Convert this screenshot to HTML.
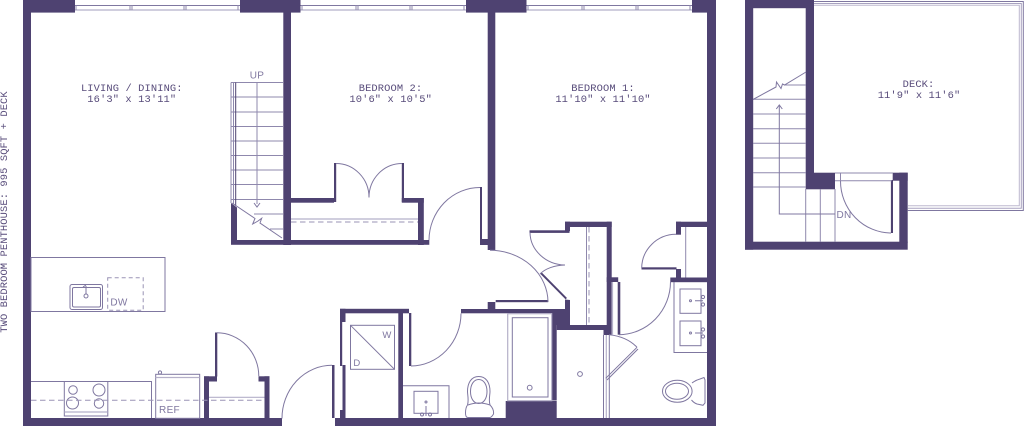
<!DOCTYPE html>
<html><head><meta charset="utf-8"><style>
html,body{margin:0;padding:0;background:#fff;width:1024px;height:426px;overflow:hidden}
svg{display:block}
.w{fill:#4e4271}
.t{fill:none;stroke:#7f77a0;stroke-width:1}
.l{fill:none;stroke:#b5b0c9;stroke-width:1.2}
.r{fill:none;stroke:#8f88ad;stroke-width:1}
.d{fill:none;stroke:#9a93b5;stroke-width:1;stroke-dasharray:5.5 3.5}
.a{fill:none;stroke:#7f77a0;stroke-width:1}
text{font-family:"Liberation Mono",monospace;font-size:10.4px;letter-spacing:.12px;fill:#574b7a;text-anchor:middle}
.s{font-family:"Liberation Sans",sans-serif;font-size:10px;letter-spacing:.3px;fill:#7f77a0}
</style></head><body>
<svg width="1024" height="426" viewBox="0 0 1024 426" xmlns="http://www.w3.org/2000/svg">
<!-- windows -->
<g class="t"><path d="M75 5.5H240M300 5.5H466M526 5.5H692"/></g>
<g class="l"><path d="M75 10H240M300 10H466M526 10H692"/></g>
<g class="r"><path d="M76 5V10M130 5V10M132 5V10M184 5V10M186 5V10M238 5V10M302 5V10M356 5V10M358 5V10M410 5V10M412 5V10M464 5V10M528 5V10M582 5V10M584 5V10M636 5V10M638 5V10M690 5V10"/></g>
<!-- main walls -->
<g class="w">
<rect x="23" y="0" width="8" height="426"/>
<rect x="23" y="0" width="52" height="12.6"/>
<rect x="240" y="0" width="60.5" height="12.6"/>
<rect x="466" y="0" width="60.5" height="12.6"/>
<rect x="692" y="0" width="24" height="12.6"/>
<rect x="707" y="0" width="9" height="426"/>
<rect x="23" y="418" width="259" height="8"/>
<rect x="335" y="418" width="381" height="8"/>
<rect x="283.3" y="12" width="7.7" height="233"/>
<rect x="487.7" y="12" width="7.6" height="238"/>
<!-- bedroom 2 closet -->
<rect x="291" y="198" width="43" height="4.7"/>
<rect x="334" y="163" width="2.2" height="39"/>
<rect x="401.8" y="163" width="2.2" height="39"/>
<rect x="401.8" y="198" width="22" height="4.7"/>
<rect x="418" y="198" width="5.8" height="47"/>
<rect x="231" y="240" width="198.3" height="4.8"/>
<rect x="480" y="187" width="2" height="53"/>
<rect x="480" y="239" width="8" height="6"/>
<path d="M231 203L237 207.5V241H231Z"/>
<!-- entry closet -->
<rect x="204" y="376.3" width="13" height="5.2"/>
<rect x="204" y="376.3" width="5" height="42"/>
<rect x="215" y="332.5" width="2.3" height="44"/>
<rect x="258.5" y="376.3" width="11" height="5.2"/>
<rect x="264.5" y="376.3" width="5" height="42"/>
<rect x="332" y="365" width="2.5" height="53"/>
<!-- laundry -->
<rect x="340" y="308.8" width="69" height="4.5"/>
<rect x="340" y="308.8" width="5.5" height="13.2"/>
<rect x="340" y="322" width="2.2" height="44"/>
<rect x="342.5" y="365" width="3" height="53"/>
<rect x="340" y="410" width="5.5" height="8"/>
<rect x="398.3" y="309" width="4.7" height="110"/>
<rect x="409" y="313" width="2.3" height="53"/>
<!-- hall wall -->
<rect x="461" y="309" width="105" height="4.3"/>
<rect x="487.7" y="302" width="7.6" height="8"/>
<rect x="495.7" y="300" width="52.5" height="2.2"/>
<path d="M565 299.5L570 300V325H556.7V400.5H551.7V313H565Z"/>
<rect x="505.7" y="401" width="51" height="18"/>
<!-- linen closet -->
<rect x="565" y="221.7" width="46.7" height="5.3"/>
<rect x="565" y="221.7" width="5" height="9.5"/>
<rect x="529.5" y="230.3" width="40" height="2.6"/>
<rect x="606.7" y="221.7" width="5" height="113"/>
<rect x="606.7" y="277.3" width="11.5" height="4.7"/>
<rect x="617.7" y="282" width="2.6" height="52.7"/>
<rect x="556.7" y="325" width="52.5" height="5"/>
<rect x="603.5" y="330" width="5.7" height="5"/>
<path d="M540 273.5L541.5 272.2L567 298L565.5 299.3Z"/>
<!-- master bath / closet -->
<rect x="670.3" y="277.5" width="37" height="4.7"/>
<rect x="676" y="221.7" width="31" height="5.3"/>
<rect x="676" y="221.7" width="5" height="13"/>
<rect x="641.5" y="267.3" width="35" height="2.2"/>
<rect x="676" y="269" width="5" height="9"/>
<!-- upper floor -->
<rect x="745" y="0" width="69" height="8.2"/>
<rect x="745" y="0" width="8.2" height="249.7"/>
<rect x="745" y="241.7" width="162.7" height="8"/>
<rect x="805.7" y="0" width="8.3" height="173"/>
<rect x="805.7" y="172.7" width="29.3" height="16.6"/>
<rect x="892.7" y="172.7" width="15" height="8"/>
<rect x="899.3" y="172.7" width="8.4" height="70"/>
<rect x="890.9" y="180" width="2.1" height="53"/>
</g>
<!-- door arcs -->
<g class="a">
<path d="M336 163.5A33 34 0 0 1 369 197.5"/>
<path d="M402 163.5A33 34 0 0 0 369 197.5"/>
<path d="M480 187.5A51 53 0 0 0 429 240"/>
<path d="M217 332.8A42 43.5 0 0 1 258.8 376.3"/>
<path d="M332 365.3A50 53 0 0 0 282 418.5"/>
<path d="M411 366A50.5 52.7 0 0 0 461 313.5"/>
<path d="M490 250.3A58 52 0 0 1 548 302"/>
<path d="M530 232.5A36 33 0 0 0 565 265"/>
<path d="M565 265A30 18 0 0 0 540 274"/>
<path d="M619 334.7A52 53 0 0 0 670.5 282"/>
<path d="M676 234.3A34.5 34 0 0 0 641.7 268"/>
<path d="M609.3 334.7A40 30 0 0 1 637 347.3"/>
<path d="M840.5 181A51 52 0 0 0 891 233"/>
</g>
<!-- stairs lower -->
<g class="r">
<path d="M231 82.5H283M231 97H283M231 112H283M231 126.5H283M231 141H283M231 155.5H283M231 170H283M231 184.5H283M231 199.5H283M254 214H283M270 229H283"/>
<path d="M231 82.5V203M233.5 82.5V204M257 82.5V204"/>
</g>
<path d="M235.7 82.5V206" fill="none" stroke="#4e4271" stroke-width="1"/>
<path d="M254 203L257 207L260 203" class="a"/>
<path d="M232 203L255 218.5L252.7 224L258 221L261.7 218.3L260 223L282 238" class="a"/>
<text class="s" x="257" y="78.5" style="fill:#8078a0">UP</text>
<!-- closet bedroom 2 -->
<path d="M291 219H418" class="l"/>
<path d="M291 222H418" class="d"/>
<!-- island -->
<rect x="31" y="257.5" width="134" height="54" class="t"/>
<rect x="70" y="284.5" width="32.5" height="25" rx="2" class="t"/>
<rect x="72.5" y="287.5" width="28" height="19.5" rx="1.5" class="t"/>
<circle cx="86" cy="296" r="2" class="t"/>
<path d="M86 286V294M83 287L86 285" class="t" stroke-width="1.3"/>
<rect x="107.7" y="277.7" width="35.5" height="32.5" class="d" style="stroke-dasharray:4 3"/>
<text class="s" x="119" y="305.5">DW</text>
<!-- kitchen counter -->
<path d="M31 381.5H64M108 381.5H151.5V418" class="t"/>
<rect x="64.3" y="381.5" width="43.5" height="34.5" class="t"/>
<path d="M64.3 412H107.8" class="l"/>
<circle cx="73" cy="390" r="4.3" class="t"/>
<circle cx="99" cy="390" r="6" class="t"/>
<circle cx="72.5" cy="403" r="6" class="t"/>
<circle cx="99" cy="403.5" r="4.7" class="t"/>
<path d="M31 400.3H264" class="d"/>
<rect x="155.7" y="374.3" width="44" height="44" class="t"/>
<path d="M155.7 377.5H199.7" class="l"/>
<circle cx="160" cy="372.5" r="1.6" class="t"/>
<text class="s" x="169.5" y="413">REF</text>
<path d="M209 397.3H264.5" class="l"/>
<!-- W/D -->
<rect x="350.5" y="325.3" width="44" height="44" class="t"/>
<path d="M350.5 325.3L394.5 369.3" class="t"/>
<text class="s" x="387" y="338" style="font-size:9.5px">W</text>
<text class="s" x="357" y="366" style="font-size:9.5px">D</text>
<!-- bath 2 -->
<path d="M403 385.8H449V418" class="t"/>
<rect x="414" y="391.3" width="24" height="22" class="t"/>
<circle cx="426" cy="402" r="1" class="t"/>
<path d="M426 406V416" class="t" stroke-width="1.4"/>
<circle cx="422" cy="414.5" r="1.5" class="t"/>
<circle cx="430" cy="414.5" r="1.5" class="t"/>
<path d="M467.5 405C469 400 467.5 395 467.5 391.5C467.5 382 472 376.5 478.7 376.5C485.5 376.5 490 382 490 391.5C490 395 488.5 400 490 405C492 407 494 410 493.5 414C492 416.5 491 417.5 490 417.5H468C466.5 417.5 465.5 416 465.5 413C465.5 410 466 407 467.5 405Z" class="t"/>
<path d="M478.7 379.5C484 379.5 487 385 487 391.5C487 398 484 403.5 478.7 403.5C473.5 403.5 470.5 398 470.5 391.5C470.5 385 473.5 379.5 478.7 379.5Z" class="t"/>
<path d="M468 405Q478.7 401 490 405" class="t"/>
<!-- tub -->
<rect x="507.7" y="313.7" width="44" height="87" class="l"/>
<rect x="512.3" y="317.7" width="35.7" height="79.3" class="t"/>
<circle cx="529.7" cy="387.7" r="2.4" class="t"/>
<!-- shower -->
<circle cx="580" cy="374" r="2.4" class="t"/>
<path d="M603.5 335V418M609.3 335V418" class="t"/>
<path d="M606.3 335V418" class="l"/>
<path d="M605.7 378.3L637 347.3M607 380L638 349" class="t"/>
<path d="M586.5 227V325" class="r"/>
<path d="M589 227V325" class="d"/>
<path d="M612.5 282V334.5" class="l"/>
<path d="M685.7 227V277.5" class="r"/>
<!-- vanity -->
<path d="M674 282V352.5H707" class="t"/>
<rect x="680" y="289" width="21" height="24.3" class="t"/>
<rect x="680" y="321" width="21" height="24.7" class="t"/>
<circle cx="690.5" cy="300.7" r="1" class="t"/>
<circle cx="690.5" cy="333" r="1" class="t"/>
<path d="M695 300.7H703M695 333H703" class="t" stroke-width="1.3"/>
<circle cx="703" cy="297" r="1.6" class="t"/><circle cx="703" cy="304.5" r="1.6" class="t"/>
<circle cx="703" cy="329.5" r="1.6" class="t"/><circle cx="703" cy="336.5" r="1.6" class="t"/>
<!-- toilet master -->
<ellipse cx="677.3" cy="391.3" rx="14.8" ry="11" class="t"/>
<ellipse cx="677" cy="391.3" rx="11.5" ry="8" class="t"/>
<path d="M692 383Q696 380 700 379L704 377.5L705 380V403L703 405.3L697 404Q694 403 691.5 400" class="t"/>
<!-- deck -->
<g fill="none" stroke-width="1">
<path d="M814 1.5H1023.3V210.5H907.7" stroke="#7f77a0"/>
<path d="M814 3.5H1021.3V208.3H907.7" stroke="#a8a2c0"/>
<path d="M814 5.3H1019.3V205.7H907.7" stroke="#bdb8cf"/>
</g>
<path d="M835 173H893M835 180.7H892M840.5 173V181" class="r"/>
<g class="r">
<path d="M753 99.3H806M753 114H806M753 128.7H806M753 143.3H806M753 158H806M753 172.7H806M753 187H806M784 85H806"/>
<path d="M805.7 189V242M820.3 189V242M835 189V242"/>
</g>
<path d="M753 99.5L776 87L776.5 82L781 88.5L782.5 84L784.5 85L806 72" class="a"/>
<path d="M779.3 105.5V214H835" class="a"/>
<path d="M776.3 109L779.3 105L782.3 109" class="a"/>
<text class="s" x="836.5" y="218" style="text-anchor:start">DN</text>
<!-- labels -->
<text x="131.8" y="91">LIVING / DINING:</text>
<text x="131.8" y="102">16'3" x 13'11"</text>
<text x="390.5" y="91">BEDROOM 2:</text>
<text x="390.7" y="102">10'6" x 10'5"</text>
<text x="603" y="91">BEDROOM 1:</text>
<text x="603" y="102">11'10" x 11'10"</text>
<text x="918.5" y="87">DECK:</text>
<text x="919" y="98">11'9" x 11'6"</text>
<text transform="translate(7 212) rotate(-90)">TWO BEDROOM PENTHOUSE: 995 SQFT + DECK</text>
</svg>
</body></html>
